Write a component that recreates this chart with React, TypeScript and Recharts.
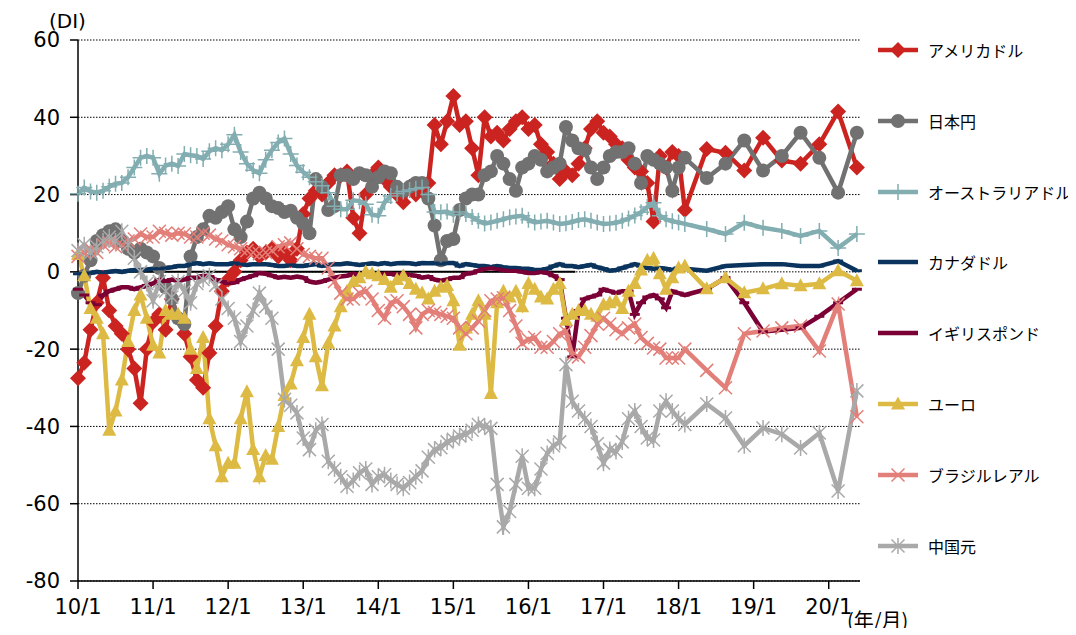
import React from 'react';
import { LineChart, Line, XAxis, YAxis, CartesianGrid, ReferenceLine } from 'recharts';

// survey dates, months since 2010/1 (monthly until early 2018, quarterly after)
const months = [
  0, 1, 2, 3, 4, 5, 6, 7, 8, 9, 10, 11,
  12, 13, 14, 15, 16, 17, 18, 19, 20, 21, 22, 23,
  24, 25, 26, 27, 28, 29, 30, 31, 32, 33, 34, 35,
  36, 37, 38, 39, 40, 41, 42, 43, 44, 45, 46, 47,
  48, 49, 50, 51, 52, 53, 54, 55, 56, 57, 58, 59,
  60, 61, 62, 63, 64, 65, 66, 67, 68, 69, 70, 71,
  72, 73, 74, 75, 76, 77, 78, 79, 80, 81, 82, 83,
  84, 85, 86, 87, 88, 89, 90, 91, 92, 93, 94, 95,
  96, 97, 100.5, 103.5, 106.5, 109.5, 112.5, 115.5, 118.5, 121.5, 124.5,
];

const usd = [
  -27.5, -23.5, -15, -8, -1.5, -10, -14, -16, -20, -25, -34, -20,
  -13, -11, -15, -7, -12, -16, -22, -28, -30, -21, -14, -5,
  -2, 0, 3, 5, 6, 4, 5, 6, 4, 5, 3, 6,
  15, 19, 21, 20, 23, 25, 25, 26, 14, 10, 20, 25,
  27, 24, 22, 20, 18, 22, 20, 21, 23, 38, 33, 39,
  45.5, 38, 39, 32, 25, 40, 35, 36, 34, 37, 39, 40,
  37, 38, 33, 31, 28, 24, 26, 25, 28, 32, 37, 39,
  36, 35, 33, 32, 29, 27, 26, 23, 13, 30, 27, 31,
  30, 16, 31.8, 30.8, 26.2, 34.7, 28.8, 28, 33, 41.5, 27,
];

const jpy = [
  -5.5, -1, 3, 8, 9.5, 10.5, 11, 8, 6, 5, 6, 5,
  4, 1, -4, -7, -12, -13.5, 4, 9, 11, 14.5, 14, 15.5,
  17, 11, 9, 13, 19, 20.5, 19, 17, 16.5, 15.5, 15.8, 14,
  12.5, 10, 24, 22, 16, 17, 25, 25, 24, 25.5, 25, 22,
  24.5, 26, 25.5, 22, 21, 22, 23, 23, 19, 12, 3, 8,
  8.5, 16, 19, 20, 20, 25, 26, 30, 28, 24, 21, 27,
  28, 30, 29, 26, 27, 28, 37.5, 34, 32, 31.5, 27, 24,
  27, 30, 31, 31, 32, 28, 23, 30, 29, 28, 27, 21,
  27, 29.5, 24.3, 28, 34, 26.2, 30, 36, 29.5, 20.5, 36,
];

const aud = [
  20.2, 21.8, 20.8, 20.5, 21, 22, 22.8, 23, 24.5, 27, 29.5, 30,
  29.5, 25.4, 27.5, 28, 27.4, 30.5, 30.2, 30, 29.2, 31.2, 32, 31.5,
  33, 35.5, 31, 28, 26.3, 25.5, 29, 31.5, 33.5, 34.5, 30.5, 27.5,
  25.8, 24.5, 23.3, 22.3, 20.5, 17, 16.2, 16.2, 18.5, 18.3, 17.5, 14.8,
  14.5, 18, 19.6, 20.3, 20.8, 21.2, 21.5, 21.8, 20, 15.5, 15.4, 15.6,
  14.8, 15.5, 15, 14.2, 13.2, 12.5, 12.8, 13.2, 13.6, 14.1, 14.3, 14.5,
  13.5, 12.8, 13, 13.2, 12.8, 12.4, 12.6, 12.9, 13.4, 13.6, 13.2, 12.8,
  12.4, 12.5, 12.7, 13.2, 13.8, 14.6, 15.4, 16.8, 17.9, 14.5, 13.6, 13.1,
  12.8, 12.4, 11.1, 9.8, 12.7, 11.4, 10.6, 9.3, 10.6, 6.2, 9.8,
];

const cad = [
  -0.5, -0.5, -0.3, 0, -0.2, 0, 0.2, 0, 0.3, 0.5, 0.5, 0.6,
  0.8, 0.8, 1, 1.2, 1.5, 1.5, 2, 2.3, 2, 2.2, 2, 2,
  2, 2.3, 2, 1.8, 2, 2, 2, 1.8, 1.5, 1.5, 1.8, 1.5,
  1.5, 1.8, 2, 1.5, 1.8, 2, 2, 2.2, 2, 1.8, 2, 2.2,
  2, 2.3, 2, 2.2, 2.3, 2.2, 2, 2.3, 2.2, 2.3, 2, 2.3,
  2.3, 1.5, 2, 1.8, 1.5, 1.5, 1.2, 1.5, 1.2, 1, 1, 0.8,
  0.8, 0.5, 0.5, 0.8, 1.5, 2, 1.5, 1.5, 1.2, 1.5, 1.8, 1.2,
  0.8, 0.3, 0.5, 1, 1.5, 2, 1.5, 1, 0.8, 1, 0.8, 0.5,
  1, 0.8, 0.3, 1.5, 1.8, 2, 2, 1.5, 1.5, 2.8, 0.3,
];

const gbp = [
  -4.5, -6, -8, -8.5, -6, -5, -4.5, -4, -4, -4.5, -4, -3.5,
  -3, -2, -2.5, -2, -2.3, -2, -1.5, -1.5, -1, -1.2, -2, -2.5,
  -3, -2.8, -2, -1.5, -1, -0.3, -0.5, -1, -1.5, -1.3, -1.5, -1.2,
  -1.5, -2.5, -2.8, -2.5, -2, -1.5, -1.2, -1, -0.5, -0.8, -0.5, -1,
  -0.8, -0.5, -0.5, -0.8, -0.5, -0.8, -1, -1.5, -1.2, -2, -2.3, -2,
  -1.5, -1.5, -0.5, -0.3, 0.3, 0.8, 1, 0.8, 0.5, 0.3, 0.3, 0,
  -0.3, -0.3, 0, -0.3, -1, -2, -12, -22, -10, -7, -6.5, -6,
  -4.5, -5, -5.5, -5, -5, -11, -8, -6.5, -6, -7, -9.3, -5,
  -5.5, -6, -4.5, -1.5, -8, -15.5, -15, -14.5, -11.5, -8, -4.5,
];

const eur = [
  4.5, -1, -9.5, -12, -16, -41, -36, -28, -18, -10, -6, -12,
  -19, -21, -10, -11, -11, -12, -20, -25, -17, -38, -45, -53,
  -49.5, -49.5, -38, -31, -46, -53, -47.5, -48.5, -40, -32, -29, -23,
  -17, -11, -22, -29.5, -18.5, -14, -9, -5, -2.5, -1.5, 0, -0.5,
  -1, -2, -4, -2, -1, -3, -4.5, -5.5, -7, -5, -4, -3.5,
  -7.5, -19, -14.5, -11, -7.5, -11, -31.5, -8, -5, -6.5, -5, -9,
  -3, -4.5, -6.5, -7, -4.5, -3, -12.5, -11, -10, -10, -11, -11.5,
  -8.5, -8, -7.5, -9.5, -5, -3, 0.5, 3, 3.5, -0.5, -4.5, -1.5,
  1, 1.5, -4.4, -1.5, -5.4, -4.4, -3.1, -3.6, -3.1, 0.3, -2.3,
];

const brl = [
  4, 5, 6, 5, 7, 7.5, 6.5, 7, 8, 8.5, 9.8, 9,
  9, 10.5, 10, 9.5, 10, 9.8, 9, 9, 10, 9.5, 8.5, 8,
  7, 6.5, 6, 5.5, 5, 4.7, 5, 5.5, 6.5, 7, 7.5, 6,
  4.5, 4, 3.5, 3.5, 1, -2.5, -5.5, -7, -7, -5.5, -5, -7,
  -10, -12, -8, -7.5, -9, -11, -14.5, -11, -10, -10.5, -11, -11.5,
  -12, -14.5, -16, -14.5, -12.7, -10, -7.5, -7, -6.7, -10, -14, -18.5,
  -17.5, -17, -19.5, -19.5, -18, -16, -15.5, -21.5, -22, -19.5, -16.5, -13.5,
  -12, -13.5, -15, -16, -14.5, -13.5, -17, -18.5, -19.7, -20, -22.3, -22.3,
  -22.3, -20, -25.5, -30, -16, -15.3, -14.5, -14, -20.5, -8.3, -37.5,
];

const cny = [
  5.5, 7, 5, 6.5, 8, 9, 8, 10.5, 7, 3.5, 0, -3,
  -7.5, -2.5, -5, -6.5, -2.5, -5, -8, -3, -2, -1, -3.5, -7,
  -9.5, -12, -18, -14, -10, -5.5, -9, -12, -20, -33, -34.5, -36.5,
  -43, -46, -41, -39.5, -49, -51, -53, -55.5, -54, -52, -51, -55,
  -53, -52.5, -54, -55, -56, -54.5, -53, -51.5, -48, -46, -45.5, -44,
  -43.3, -42.5, -42, -41, -39.5, -40, -40.5, -55, -66, -62, -55, -47.7,
  -56, -56, -51, -47, -45, -44, -24, -33.5, -36, -38, -40, -44.5,
  -49.5, -46, -46.5, -44, -38, -36, -40, -43, -43.5, -36, -33.5, -36,
  -38, -39.5, -34.2, -37.8, -45, -40.4, -42, -45.6, -41.7, -56.7, -30.8,
];

const xTicks = [0, 12, 24, 36, 48, 60, 72, 84, 96, 108, 120];
const xTickLabels = ['10/1', '11/1', '12/1', '13/1', '14/1', '15/1', '16/1', '17/1', '18/1', '19/1', '20/1'];
const yTicks = [-80, -60, -40, -20, 0, 20, 40, 60];

const data = months.map((m, i) => ({
  m,
  usd: usd[i],
  jpy: jpy[i],
  aud: aud[i],
  cad: cad[i],
  gbp: gbp[i],
  eur: eur[i],
  brl: brl[i],
  cny: cny[i],
}));

type Shape = 'diamond' | 'circle' | 'plus' | 'dash' | 'triangle' | 'cross' | 'star';

const series: { key: string; name: string; color: string; shape: Shape }[] = [
  { key: 'usd', name: 'アメリカドル', color: '#CB2420', shape: 'diamond' },
  { key: 'jpy', name: '日本円', color: '#717171', shape: 'circle' },
  { key: 'aud', name: 'オーストラリアドル', color: '#82ADB1', shape: 'plus' },
  { key: 'cad', name: 'カナダドル', color: '#0A345E', shape: 'dash' },
  { key: 'gbp', name: 'イギリスポンド', color: '#7A0035', shape: 'dash' },
  { key: 'eur', name: 'ユーロ', color: '#DDBA43', shape: 'triangle' },
  { key: 'brl', name: 'ブラジルレアル', color: '#E37F79', shape: 'cross' },
  { key: 'cny', name: '中国元', color: '#A9A9A9', shape: 'star' },
];

const Marker = ({ shape, color, cx, cy }: { shape: Shape; color: string; cx: number; cy: number }) => {
  switch (shape) {
    case 'diamond':
      return <path d={`M${cx},${cy - 8}L${cx + 8},${cy}L${cx},${cy + 8}L${cx - 8},${cy}Z`} fill={color} />;
    case 'circle':
      return <circle cx={cx} cy={cy} r={7} fill={color} />;
    case 'triangle':
      return <path d={`M${cx},${cy - 7.5}L${cx + 7},${cy + 5.5}L${cx - 7},${cy + 5.5}Z`} fill={color} />;
    case 'plus':
      return (
        <path d={`M${cx - 8},${cy}H${cx + 8}M${cx},${cy - 8}V${cy + 8}`} stroke={color} strokeWidth={1.5} fill="none" />
      );
    case 'cross':
      return (
        <path
          d={`M${cx - 6.5},${cy - 6.5}L${cx + 6.5},${cy + 6.5}M${cx - 6.5},${cy + 6.5}L${cx + 6.5},${cy - 6.5}`}
          stroke={color}
          strokeWidth={1.5}
          fill="none"
        />
      );
    case 'star':
      return (
        <path
          d={`M${cx - 6.5},${cy - 6.5}L${cx + 6.5},${cy + 6.5}M${cx - 6.5},${cy + 6.5}L${cx + 6.5},${cy - 6.5}M${cx},${cy - 8}V${cy + 8}`}
          stroke={color}
          strokeWidth={1.5}
          fill="none"
        />
      );
    case 'dash':
    default:
      return <path d={`M${cx - 5},${cy}H${cx + 5}`} stroke={color} strokeWidth={3} fill="none" />;
  }
};

const makeDot = (shape: Shape, color: string) => (props: any) => {
  const { cx, cy, index } = props;
  if (cx == null || cy == null) return <g key={`${shape}-${index}`} />;
  return (
    <g key={`${shape}-${index}`}>
      <Marker shape={shape} color={color} cx={cx} cy={cy} />
    </g>
  );
};

const tickFont = { fontFamily: 'DejaVu Sans', fontSize: 21, fill: '#000' };

const App: React.FC = () => {
  return (
    <div style={{ position: 'relative', width: 1060, height: 620 }}>
      <LineChart width={1060} height={620} data={data} margin={{ top: 32, right: 208, bottom: 17, left: 0 }}>
        <CartesianGrid horizontal vertical={false} stroke="#000" strokeDasharray="1.5 1.5" />
        <XAxis
          dataKey="m"
          type="number"
          domain={[0, 125]}
          ticks={xTicks}
          tickFormatter={(v: number) => xTickLabels[xTicks.indexOf(v)]}
          height={30}
          axisLine={{ stroke: '#000', strokeWidth: 1.5 }}
          tickLine={{ stroke: '#000', strokeWidth: 1.5 }}
          tickSize={8}
          tickMargin={10}
          tick={tickFont}
          interval={0}
        />
        <YAxis
          type="number"
          domain={[-80, 60]}
          ticks={yTicks}
          width={70}
          axisLine={{ stroke: '#000', strokeWidth: 1.5 }}
          tickLine={{ stroke: '#000', strokeWidth: 1.5 }}
          tickSize={8}
          tickMargin={10}
          tick={tickFont}
          interval={0}
        />
        <ReferenceLine
          segment={[
            { x: 0, y: 0 },
            { x: 79.5, y: 0 },
          ]}
          stroke="#000"
          strokeWidth={2}
        />
        {series.map((s) => (
          <Line
            key={s.key}
            type="linear"
            dataKey={s.key}
            name={s.name}
            stroke={s.color}
            strokeWidth={4.5}
            dot={makeDot(s.shape, s.color)}
            activeDot={false}
            isAnimationActive={false}
          />
        ))}
      </LineChart>

      <div style={{ position: 'absolute', left: 41, top: 1, fontFamily: 'DejaVu Sans', fontSize: 20, color: '#000' }}>
        (DI)
      </div>
      <div
        style={{
          position: 'absolute',
          left: 839,
          top: 600,
          fontFamily: 'Noto Sans CJK JP',
          fontSize: 20,
          lineHeight: '24px',
          color: '#000',
        }}
      >
        (年/月)
      </div>

      {series.map((s, i) => (
        <div
          key={s.key}
          style={{
            position: 'absolute',
            left: 868,
            top: 42 + i * 70.8 - 12,
            height: 24,
            display: 'flex',
            alignItems: 'center',
            fontFamily: 'Noto Sans CJK JP',
            fontSize: 16,
            color: '#000',
            whiteSpace: 'nowrap',
          }}
        >
          <svg width={52} height={24} style={{ display: 'block' }}>
            <line x1={2} y1={12} x2={42} y2={12} stroke={s.color} strokeWidth={4.5} />
            <Marker shape={s.shape} color={s.color} cx={22} cy={12} />
          </svg>
          <span>{s.name}</span>
        </div>
      ))}
    </div>
  );
};

export default App;
